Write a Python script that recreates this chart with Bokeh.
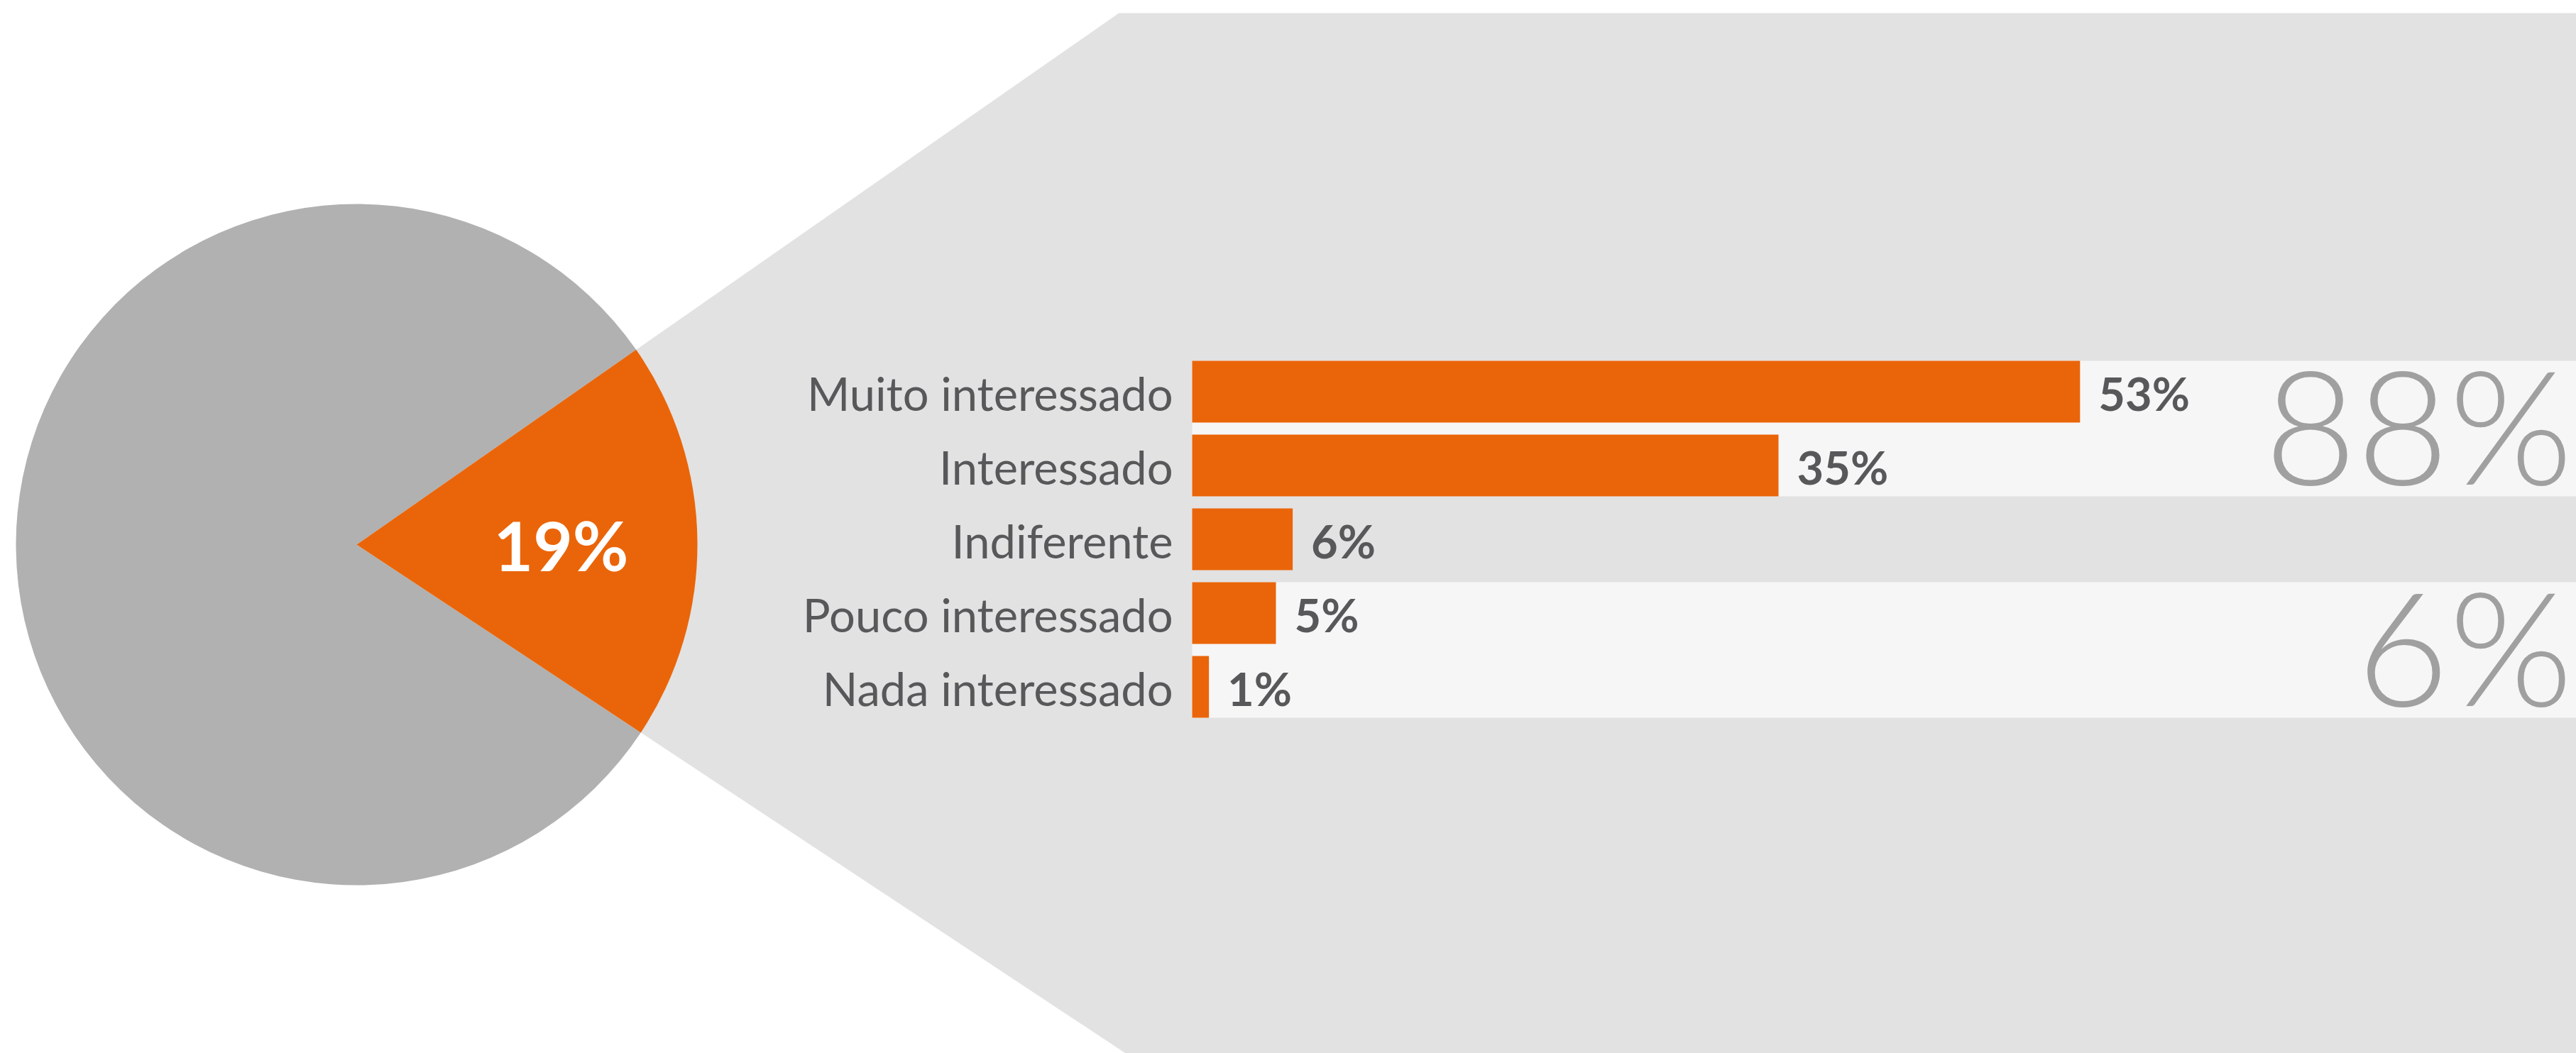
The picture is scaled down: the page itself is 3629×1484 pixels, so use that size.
import math
from bokeh.plotting import figure
from bokeh.models import Range1d
from bokeh.core.properties import value
from bokeh.embed import file_html
from bokeh.resources import INLINE

# ---------------- data ----------------
categories = ["Muito interessado", "Interessado", "Indiferente", "Pouco interessado", "Nada interessado"]
shares = [53, 35, 6, 5, 1]
value_labels = ["53%", "35%", "6%", "5%", "1%"]
pie_values = [19, 81]
pie_label = ["19%"]
group_rows = [[0, 1], [3, 4]]
group_labels = ["88%", "6%"]

# ---------------- layout / style ----------------
W, H = 3629, 1484
PX_PER_X = 23.6          # pixels per percentage point
X0_PX = 1679             # pixel position of 0 %
ROW_PX = 104             # pixels per row
ROW0_PX = 551.5          # pixel centre of first row
BAR_H = 87 / ROW_PX

ORANGE = "#EA6509"
PIE_GREY = "#B1B1B1"
BG_GREY = "#E2E2E2"
STRIPE = "#F6F6F6"
TEXT = "#58585A"
BIG = "#A0A0A0"


def px2x(px):
    return (px - X0_PX) / PX_PER_X


def px2y(py):
    return -(py - ROW0_PX) / ROW_PX


p = figure(width=W, height=H, output_backend="svg", toolbar_location=None,
           x_range=Range1d(px2x(0), px2x(W)), y_range=Range1d(px2y(H), px2y(0)),
           min_border=0, x_axis_location=None, y_axis_location=None)
p.grid.visible = False
p.outline_line_color = None
p.background_fill_color = "white"
p.border_fill_color = "white"

# pie geometry
PIE_CX_PX, PIE_CY_PX, PIE_R_PX = 502, 767, 480
ROT = math.radians(0.7)
cx, cy = px2x(PIE_CX_PX), px2y(PIE_CY_PX)
R = PIE_R_PX / PX_PER_X
frac = pie_values[0] / sum(pie_values)
a0 = ROT - math.pi * frac
a1 = ROT + math.pi * frac

# background "zoom" polygon continuing the wedge edges
top_py, bot_py, right_px = 18, 1600, 3700
top_x_px = PIE_CX_PX + (PIE_CY_PX - top_py) / math.tan(a1)
bot_x_px = PIE_CX_PX + (bot_py - PIE_CY_PX) / math.tan(-a0)
p.patch(x=[cx, px2x(top_x_px), px2x(right_px), px2x(right_px), px2x(bot_x_px)],
        y=[cy, px2y(top_py), px2y(top_py), px2y(bot_py), px2y(bot_py)],
        fill_color=BG_GREY, line_color=None)

# light stripes behind groups
p.quad(left=[0, 0], right=[px2x(right_px)] * 2,
       top=[-g[0] + BAR_H / 2 for g in group_rows],
       bottom=[-g[-1] - BAR_H / 2 for g in group_rows],
       fill_color=STRIPE, line_color=None)

# pie
p.wedge(x=[cx, cx], y=[cy, cy], radius=R,
        start_angle=[a1, a0], end_angle=[a0 + 2 * math.pi, a1],
        fill_color=[PIE_GREY, ORANGE], line_color=None)
p.text(x=[cx + 0.6 * R], y=[cy], text=pie_label, text_align="center",
       text_baseline="middle", y_offset=0,
       text_font=value("Lato"), text_font_style="bold", text_font_size="96px",
       text_color="white")

# bars
ys = [-i for i in range(len(categories))]
p.hbar(y=ys, left=0, right=shares, height=BAR_H, fill_color=ORANGE, line_color=None)

p.text(x=[0] * len(categories), y=ys, text=categories, text_align="right",
       text_baseline="middle", x_offset=-27, y_offset=2,
       text_font=value("Lato"), text_font_size="65px", text_color=TEXT)

p.text(x=shares, y=ys, text=value_labels, text_align="left",
       text_baseline="middle", x_offset=26, y_offset=2,
       text_font=value("Lato"), text_font_style="bold", text_font_size="65px",
       text_color=TEXT)

# group totals
p.text(x=[px2x(3624)] * len(group_labels),
       y=[-sum(g) / len(g) for g in group_rows], text=group_labels,
       text_align="right", text_baseline="middle", y_offset=-8,
       text_font=value("Lato Light"), text_font_size="224px", text_color=BIG)

open("out.html", "w").write(file_html(p, INLINE))
